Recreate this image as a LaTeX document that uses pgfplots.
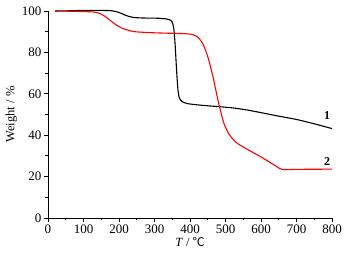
\documentclass[border=0pt]{standalone}
\usepackage{pgfplots}
\pgfplotsset{compat=1.18}
\usepackage{fontspec}
\setmainfont{Liberation Serif}
\newfontfamily\symfont{Noto Sans CJK SC}
\begin{document}
\begin{tikzpicture}
\begin{axis}[
    name=ax,
    scale only axis,
    width=284pt, height=207pt,
    xmin=0, xmax=800, ymin=0, ymax=100,
    axis lines=left,
    axis line style={-, line width=0.8pt},
    xtick={0,100,...,800},
    ytick={0,20,...,100},
    minor x tick num=1,
    minor y tick num=1,
    tick align=outside,
    major tick length=4pt,
    minor tick length=2.5pt,
    tick style={line width=0.8pt, black},
    ticklabel style={font=\fontsize{13}{14}\selectfont},
    xticklabel style={yshift=1pt},
    yticklabel style={xshift=1pt},
    /pgf/number format/assume math mode=true,
    xlabel={\textit{T} / {\symfont\fontsize{12}{13}\selectfont ℃}},
    ylabel={Weight / \%},
    label style={font=\fontsize{12.5}{14}\selectfont},
    xlabel style={yshift=3pt},
    ylabel style={yshift=-2pt},
    clip=false,
]
% curve 1
\addplot[black, line width=1.1pt, smooth, tension=0.4] coordinates {
    (20,100) (60,100.1) (100,100.3) (150,100.3) (180,100.1) (200,99.3)
    (220,97.8) (240,96.9) (270,96.6) (310,96.5) (335,96.1) (348,95.2)
    (354,92) (358,84) (362,72) (366,62) (370,58) (378,56.2) (395,55.2)
    (430,54.5) (480,53.8) (520,53.2) (560,52.2) (600,50.9) (650,49.2)
    (700,47.6) (750,45.5) (800,43.2)
};
% curve 2
\addplot[red, line width=1.1pt, smooth, tension=0.4] coordinates {
    (20,100) (80,99.8) (130,99.5) (150,98.5) (170,96.2) (190,93.5)
    (210,91.6) (240,90.1) (280,89.6) (330,89.3) (380,89.1) (405,88.7)
    (420,87.6) (435,84.5) (450,78) (465,68) (480,56) (495,46)
    (510,40.5) (530,36.5) (560,33.3) (600,29.5) (640,25.3) (660,23.4)
    (700,23.5) (800,23.6)
};
\node[font=\bfseries\fontsize{12}{13}\selectfont] at (axis cs:786,49.5) {1};
\node[font=\bfseries\fontsize{12}{13}\selectfont] at (axis cs:786,27.5) {2};
\end{axis}
\pgfresetboundingbox
\path ([shift={(-48pt,-35pt)}]ax.south west) rectangle ([shift={(12pt,11pt)}]ax.north east);
\end{tikzpicture}
\end{document}
